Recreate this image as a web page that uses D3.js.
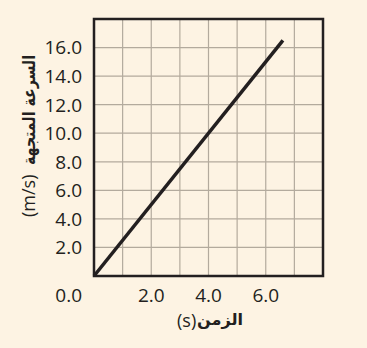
<!DOCTYPE html>
<html><head><meta charset="utf-8">
<script src="https://cdn.jsdelivr.net/npm/d3@7"></script>
<style>
html,body{margin:0;padding:0;background:#fdf3e3;}
svg{display:block;}
</style></head>
<body>
<svg id="c" width="367" height="348"></svg>
<script>
const timeData = [0, 6.6];
const speedData = [0, 16.5];
const xTicks = [2, 4, 6];
const yTicks = [2, 4, 6, 8, 10, 12, 14, 16];
const zeroLabel = "0.0";
const xTitleAr = "الزمن";
const xTitleUnit = "(s)";
const yTitleAr = "السرعة المتجهة";
const yTitleUnit = "(m/s)";

const svg = d3.select("#c");
const L = 94, R = 323, T = 19, B = 276;
const x = d3.scaleLinear().domain([0, 8]).range([L, R]);
const y = d3.scaleLinear().domain([0, 18]).range([B, T]);

const numFont = "'Open Sans', 'Noto Sans', sans-serif";
const arFont = "'DejaVu Sans', sans-serif";
const ink = "#231f20";
const gridCol = "#b3aa9d";

// grid
svg.append("g").selectAll("line").data(d3.range(1, 8)).join("line")
  .attr("x1", d => x(d)).attr("x2", d => x(d)).attr("y1", T).attr("y2", B)
  .attr("stroke", gridCol).attr("stroke-width", 1.2);
svg.append("g").selectAll("line").data(d3.range(2, 18, 2)).join("line")
  .attr("y1", d => y(d)).attr("y2", d => y(d)).attr("x1", L).attr("x2", R)
  .attr("stroke", gridCol).attr("stroke-width", 1.2);

// frame
svg.append("rect").attr("x", L).attr("y", T).attr("width", R - L).attr("height", B - T)
  .attr("fill", "none").attr("stroke", ink).attr("stroke-width", 2.5);

// data line
svg.append("path")
  .datum(timeData.map((t, i) => [t, speedData[i]]))
  .attr("d", d3.line().x(d => x(d[0])).y(d => y(d[1])))
  .attr("fill", "none").attr("stroke", ink).attr("stroke-width", 3.5);

// y tick labels
svg.append("g").selectAll("text").data(yTicks).join("text")
  .attr("x", 82).attr("y", d => y(d)).attr("dy", "0.36em")
  .attr("text-anchor", "end").attr("font-family", numFont).attr("font-size", 19).attr("font-weight", 500)
  .attr("fill", ink).text(d => d.toFixed(1));

// x tick labels
svg.append("g").selectAll("text").data(xTicks).join("text")
  .attr("x", d => x(d)).attr("y", 302)
  .attr("text-anchor", "middle").attr("font-family", numFont).attr("font-size", 19).attr("font-weight", 500)
  .attr("fill", ink).text(d => d.toFixed(1));

svg.append("text").attr("x", 82).attr("y", 302).attr("text-anchor", "end")
  .attr("font-family", numFont).attr("font-size", 19).attr("font-weight", 500).attr("fill", ink).text(zeroLabel);

// x title
svg.append("text").attr("x", 177).attr("y", 327).attr("text-anchor", "start")
  .attr("font-family", numFont).attr("font-size", 18).attr("font-weight", 500).attr("fill", ink).text(xTitleUnit);
svg.append("text").attr("x", 243).attr("y", 325).attr("text-anchor", "end")
  .attr("font-family", arFont).attr("font-weight", "bold").attr("font-size", 16)
  .attr("textLength", 46).attr("lengthAdjust", "spacingAndGlyphs")
  .attr("fill", ink).text(xTitleAr);

// y title
const yt = svg.append("g").attr("transform", "translate(35,0) rotate(-90)");
yt.append("text").attr("x", -217).attr("y", 0).attr("text-anchor", "start")
  .attr("font-family", numFont).attr("font-size", 18).attr("font-weight", 500).attr("fill", ink).text(yTitleUnit);
yt.append("text").attr("x", -55).attr("y", 0).attr("text-anchor", "end")
  .attr("font-family", arFont).attr("font-weight", "bold").attr("font-size", 17)
  .attr("textLength", 110).attr("lengthAdjust", "spacingAndGlyphs")
  .attr("fill", ink).text(yTitleAr);
</script>
</body></html>
